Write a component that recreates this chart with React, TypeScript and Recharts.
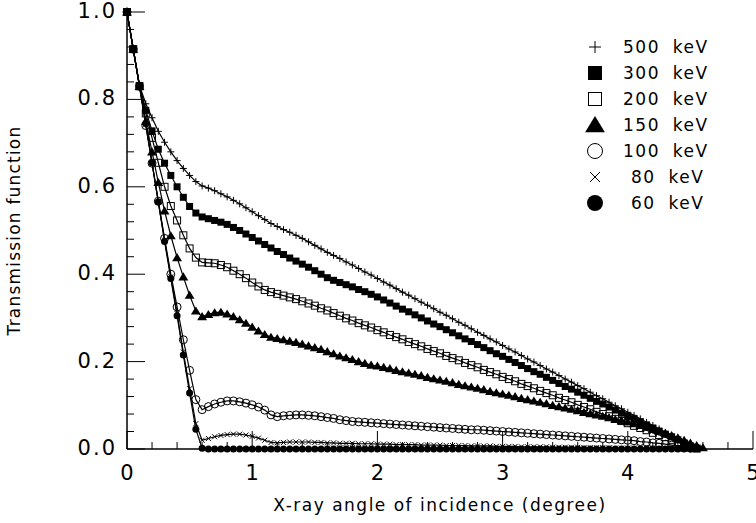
import React from 'react';
import { LineChart, Line, XAxis, YAxis, Legend } from 'recharts';

// angle of incidence (degree), one row of ten points per line
const ANGLE = [
  0, 0.05, 0.1, 0.15, 0.2, 0.25, 0.3, 0.35, 0.4, 0.45,
  0.5, 0.55, 0.6, 0.65, 0.7, 0.75, 0.8, 0.85, 0.9, 0.95,
  1.0, 1.05, 1.1, 1.15, 1.2, 1.25, 1.3, 1.35, 1.4, 1.45,
  1.5, 1.55, 1.6, 1.65, 1.7, 1.75, 1.8, 1.85, 1.9, 1.95,
  2.0, 2.05, 2.1, 2.15, 2.2, 2.25, 2.3, 2.35, 2.4, 2.45,
  2.5, 2.55, 2.6, 2.65, 2.7, 2.75, 2.8, 2.85, 2.9, 2.95,
  3.0, 3.05, 3.1, 3.15, 3.2, 3.25, 3.3, 3.35, 3.4, 3.45,
  3.5, 3.55, 3.6, 3.65, 3.7, 3.75, 3.8, 3.85, 3.9, 3.95,
  4.0, 4.05, 4.1, 4.15, 4.2, 4.25, 4.3, 4.35, 4.4, 4.45,
  4.5, 4.55, 4.6,
];

const KEV500 = [
  1.0, 0.915, 0.832, 0.79, 0.758, 0.727, 0.702, 0.68, 0.66, 0.642,
  0.626, 0.612, 0.602, 0.597, 0.591, 0.584, 0.577, 0.569, 0.561, 0.552,
  0.543, 0.534, 0.525, 0.516, 0.509, 0.502, 0.496, 0.489, 0.482, 0.474,
  0.466, 0.458, 0.45, 0.443, 0.436, 0.428, 0.421, 0.413, 0.405, 0.398,
  0.39, 0.382, 0.375, 0.367, 0.359, 0.352, 0.344, 0.336, 0.329, 0.321,
  0.313, 0.306, 0.298, 0.29, 0.283, 0.275, 0.267, 0.26, 0.252, 0.245,
  0.237, 0.229, 0.222, 0.214, 0.206, 0.199, 0.191, 0.183, 0.176, 0.168,
  0.16, 0.153, 0.145, 0.138, 0.13, 0.122, 0.115, 0.107, 0.099, 0.092,
  0.084, 0.077, 0.069, 0.061, 0.054, 0.046, 0.038, 0.031, 0.023, 0.015,
  0.008, 0.001, null,
];

const KEV300 = [
  1.0, 0.915, 0.832, 0.775, 0.728, 0.686, 0.654, 0.626, 0.6, 0.576,
  0.555, 0.54, 0.531, 0.527, 0.523, 0.519, 0.514, 0.507, 0.5, 0.492,
  0.484, 0.476, 0.468, 0.46, 0.452, 0.445, 0.437, 0.43, 0.423, 0.416,
  0.408, 0.4, 0.392, 0.386, 0.381, 0.376, 0.371, 0.365, 0.36, 0.354,
  0.348, 0.341, 0.334, 0.327, 0.32, 0.314, 0.307, 0.3, 0.293, 0.286,
  0.28, 0.273, 0.266, 0.259, 0.252, 0.246, 0.239, 0.232, 0.225, 0.218,
  0.212, 0.205, 0.198, 0.191, 0.184, 0.177, 0.171, 0.164, 0.157, 0.15,
  0.143, 0.137, 0.13, 0.123, 0.116, 0.109, 0.103, 0.096, 0.089, 0.082,
  0.075, 0.068, 0.062, 0.055, 0.048, 0.041, 0.034, 0.028, 0.021, 0.014,
  0.007, 0.001, null,
];

const KEV200 = [
  1.0, 0.915, 0.83, 0.768, 0.712, 0.655, 0.6, 0.556, 0.523, 0.489,
  0.459, 0.438, 0.427, 0.426, 0.425, 0.421, 0.416, 0.408, 0.4, 0.391,
  0.381, 0.372, 0.364, 0.359, 0.355, 0.351, 0.347, 0.343, 0.338, 0.333,
  0.328, 0.322, 0.317, 0.311, 0.305, 0.299, 0.294, 0.288, 0.283, 0.278,
  0.272, 0.267, 0.261, 0.256, 0.251, 0.245, 0.24, 0.235, 0.229, 0.224,
  0.219, 0.213, 0.208, 0.203, 0.197, 0.192, 0.187, 0.181, 0.176, 0.171,
  0.165, 0.16, 0.155, 0.149, 0.144, 0.139, 0.133, 0.128, 0.123, 0.117,
  0.112, 0.107, 0.101, 0.096, 0.091, 0.085, 0.08, 0.075, 0.069, 0.064,
  0.059, 0.053, 0.048, 0.043, 0.037, 0.032, 0.027, 0.021, 0.016, 0.011,
  0.005, 0.001, null,
];

const KEV150 = [
  1.0, 0.915, 0.83, 0.75, 0.68, 0.61, 0.545, 0.488, 0.438, 0.394,
  0.352, 0.316, 0.303, 0.308, 0.312, 0.313, 0.309, 0.303, 0.296, 0.288,
  0.279, 0.27, 0.262, 0.256, 0.253, 0.25, 0.247, 0.244, 0.24, 0.236,
  0.232, 0.228, 0.223, 0.218, 0.213, 0.209, 0.205, 0.2, 0.196, 0.192,
  0.19, 0.187, 0.184, 0.18, 0.177, 0.174, 0.171, 0.168, 0.164, 0.161,
  0.158, 0.155, 0.152, 0.148, 0.145, 0.142, 0.139, 0.136, 0.132, 0.129,
  0.126, 0.123, 0.12, 0.116, 0.113, 0.11, 0.107, 0.104, 0.1, 0.097,
  0.094, 0.091, 0.088, 0.084, 0.081, 0.078, 0.075, 0.072, 0.068, 0.065,
  0.062, 0.058, 0.054, 0.05, 0.045, 0.041, 0.036, 0.031, 0.026, 0.02,
  0.014, 0.008, 0.003,
];

const KEV100 = [
  1.0, 0.915, 0.83, 0.74, 0.654, 0.567, 0.482, 0.4, 0.325, 0.25,
  0.18, 0.113, 0.09, 0.097, 0.103, 0.107, 0.11, 0.11, 0.108, 0.105,
  0.101, 0.096, 0.089, 0.078, 0.074, 0.076, 0.077, 0.078, 0.078, 0.077,
  0.076, 0.074, 0.072, 0.07, 0.067, 0.065, 0.063, 0.062, 0.061, 0.06,
  0.059, 0.058, 0.057, 0.056, 0.055, 0.054, 0.053, 0.052, 0.051, 0.05,
  0.049, 0.048, 0.047, 0.046, 0.045, 0.044, 0.044, 0.043, 0.042, 0.041,
  0.04, 0.039, 0.038, 0.037, 0.036, 0.035, 0.034, 0.033, 0.032, 0.031,
  0.03, 0.029, 0.028, 0.027, 0.026, 0.025, 0.024, 0.023, 0.022, 0.021,
  0.02, 0.019, 0.017, 0.016, 0.014, 0.013, 0.011, 0.009, 0.007, 0.005,
  0.002, null, null,
];

const KEV80 = [
  1.0, 0.915, 0.83, 0.742, 0.655, 0.566, 0.478, 0.394, 0.31, 0.222,
  0.138, 0.058, 0.02, 0.024, 0.028, 0.031, 0.033, 0.034, 0.034, 0.032,
  0.029, 0.025, 0.02, 0.015, 0.014, 0.015, 0.016, 0.016, 0.016, 0.016,
  0.015, 0.015, 0.014, 0.014, 0.013, 0.013, 0.013, 0.012, 0.012, 0.012,
  0.011, 0.011, 0.011, 0.01, 0.01, 0.01, 0.01, 0.009, 0.009, 0.009,
  0.009, 0.008, 0.008, 0.008, 0.008, 0.007, 0.007, 0.007, 0.007, 0.006,
  0.006, 0.006, 0.006, 0.005, 0.005, 0.005, 0.005, 0.005, 0.004, 0.004,
  0.004, 0.004, 0.004, 0.003, 0.003, 0.003, 0.003, 0.003, 0.002, 0.002,
  0.002, 0.002, 0.002, 0.001, 0.001, 0.001, 0.001, 0.001, 0, 0,
  0, null, null,
];

const KEV60 = [
  1.0, 0.915, 0.83, 0.745, 0.655, 0.565, 0.475, 0.39, 0.305, 0.215,
  0.128, 0.045, 0.002, 0, 0, 0, 0, 0, 0, 0,
  0, 0, 0, 0, 0, 0, 0, 0, 0, 0,
  0, 0, 0, 0, 0, 0, 0, 0, 0, 0,
  0, 0, 0, 0, 0, 0, 0, 0, 0, 0,
  0, 0, 0, 0, 0, 0, 0, 0, 0, 0,
  0, 0, 0, 0, 0, 0, 0, 0, 0, 0,
  0, 0, 0, 0, 0, 0, 0, 0, 0, 0,
  0, 0, 0, 0, 0, 0, 0, 0, 0, 0,
  0, null, null,
];

const X_TICKS = [
  0, 0.2, 0.4, 0.6, 0.8, 1, 1.2, 1.4, 1.6, 1.8, 2, 2.2, 2.4, 2.6, 2.8,
  3, 3.2, 3.4, 3.6, 3.8, 4, 4.2, 4.4, 4.6, 4.8, 5,
];
const Y_TICKS = [
  0, 0.04, 0.08, 0.12, 0.16, 0.2, 0.24, 0.28, 0.32, 0.36, 0.4, 0.44, 0.48,
  0.52, 0.56, 0.6, 0.64, 0.68, 0.72, 0.76, 0.8, 0.84, 0.88, 0.92, 0.96, 1,
];

const SERIES = [
  { key: 'k500', name: '500 keV', values: KEV500, marker: 'plus' },
  { key: 'k300', name: '300 keV', values: KEV300, marker: 'square' },
  { key: 'k200', name: '200 keV', values: KEV200, marker: 'openSquare' },
  { key: 'k150', name: '150 keV', values: KEV150, marker: 'triangle' },
  { key: 'k100', name: '100 keV', values: KEV100, marker: 'openCircle' },
  { key: 'k80', name: '80 keV', values: KEV80, marker: 'cross' },
  { key: 'k60', name: '60 keV', values: KEV60, marker: 'circle' },
];

const chartData = ANGLE.map((x, i) => {
  const row: Record<string, number | null> = { x };
  SERIES.forEach(s => {
    row[s.key] = s.values[i];
  });
  return row;
});

const FONT = '"DejaVu Sans", sans-serif';

function Marker({ kind, cx, cy, s }: { kind: string; cx: number; cy: number; s: number }) {
  const k = '#000';
  switch (kind) {
    case 'plus':
      return <path d={`M${cx - s},${cy}H${cx + s}M${cx},${cy - s}V${cy + s}`} stroke={k} strokeWidth={1} fill="none" />;
    case 'cross':
      return <path d={`M${cx - s},${cy - s}L${cx + s},${cy + s}M${cx - s},${cy + s}L${cx + s},${cy - s}`} stroke={k} strokeWidth={1} fill="none" />;
    case 'square':
      return <rect x={cx - s} y={cy - s} width={2 * s} height={2 * s} fill={k} />;
    case 'openSquare':
      return <rect x={cx - s} y={cy - s} width={2 * s} height={2 * s} fill="none" stroke={k} strokeWidth={1} />;
    case 'triangle':
      return <path d={`M${cx},${cy - s}L${cx + s * 1.1},${cy + s * 0.8}L${cx - s * 1.1},${cy + s * 0.8}Z`} fill={k} />;
    case 'openCircle':
      return <circle cx={cx} cy={cy} r={s} fill="none" stroke={k} strokeWidth={1} />;
    default:
      return <circle cx={cx} cy={cy} r={s} fill={k} />;
  }
}

const DOT_SIZE: Record<string, number> = {
  plus: 3.5,
  cross: 2.5,
  square: 3.5,
  openSquare: 3.5,
  triangle: 4.5,
  openCircle: 4,
  circle: 3.5,
};

const LEGEND_SIZE: Record<string, number> = {
  plus: 6,
  cross: 5,
  square: 7,
  openSquare: 6.5,
  triangle: 9,
  openCircle: 7.5,
  circle: 8,
};

const isMajorX = (v: number) => Math.abs(v - Math.round(v)) < 1e-6;
const isMajorY = (v: number) => Math.abs(v * 5 - Math.round(v * 5)) < 1e-6;

const tickText = {
  fontFamily: FONT,
  fontSize: 21,
  fill: '#000',
  letterSpacing: 2,
};

const BottomTick = (props: any) => {
  const { x, y, payload } = props;
  const major = isMajorX(payload.value);
  return (
    <g>
      <line x1={x} y1={y} x2={x} y2={y - (major ? 18 : 7)} stroke="#000" strokeWidth={1} />
      {major && (
        <text x={x + 1} y={y + 25} textAnchor="middle" dominantBaseline="middle" style={tickText}>
          {Math.round(payload.value)}
        </text>
      )}
    </g>
  );
};

const TopTick = (props: any) => {
  const { x, y, payload } = props;
  const major = isMajorX(payload.value);
  return <line x1={x} y1={y} x2={x} y2={y + (major ? 18 : 7)} stroke="#000" strokeWidth={1} />;
};

const LeftTick = (props: any) => {
  const { x, y, payload } = props;
  const major = isMajorY(payload.value);
  return (
    <g>
      <line x1={x} y1={y} x2={x + (major ? 18 : 7)} y2={y} stroke="#000" strokeWidth={1} />
      {major && (
        <text x={x - 10} y={y} textAnchor="end" dominantBaseline="middle" style={tickText}>
          {payload.value.toFixed(1)}
        </text>
      )}
    </g>
  );
};

const RightTick = (props: any) => {
  const { x, y, payload } = props;
  const major = isMajorY(payload.value);
  return <line x1={x} y1={y} x2={x - (major ? 18 : 7)} y2={y} stroke="#000" strokeWidth={1} />;
};

const LegendBox = () => (
  <div style={{ fontFamily: FONT, fontSize: 17, color: '#000' }}>
    {SERIES.map(s => (
      <div key={s.key} style={{ display: 'flex', alignItems: 'center', height: 26 }}>
        <svg width={24} height={26} style={{ display: 'block' }}>
          <Marker kind={s.marker} cx={12} cy={13} s={LEGEND_SIZE[s.marker]} />
        </svg>
        <span
          style={{
            marginLeft: s.name.length < 7 ? 24 : 16,
            letterSpacing: 1.5,
            wordSpacing: 6,
            whiteSpace: 'pre',
          }}
        >
          {s.name}
        </span>
      </div>
    ))}
  </div>
);

export default function App() {
  return (
    <div style={{ position: 'absolute', left: 0, top: 0, width: 756, height: 523, background: '#fff' }}>
      <LineChart width={756} height={523} data={chartData} margin={{ top: 12, right: 3, bottom: 0, left: 0 }}>
        <XAxis
          xAxisId="b"
          dataKey="x"
          type="number"
          domain={[0, 5]}
          ticks={X_TICKS}
          interval={0}
          height={74}
          tickSize={0}
          tickMargin={0}
          tickLine={false}
          axisLine={{ stroke: '#000', strokeWidth: 1.5 }}
          tick={<BottomTick />}
          label={{
            value: 'X-ray angle of incidence (degree)',
            position: 'insideBottom',
            offset: 12,
            style: { fontFamily: FONT, fontSize: 17, fill: '#000', letterSpacing: 1.5 },
          }}
        />
        <XAxis
          xAxisId="t"
          dataKey="x"
          type="number"
          orientation="top"
          domain={[0, 5]}
          ticks={X_TICKS}
          interval={0}
          height={0}
          tickSize={0}
          tickMargin={0}
          tickLine={false}
          axisLine={{ stroke: '#000', strokeWidth: 1.5 }}
          tick={<TopTick />}
        />
        <YAxis
          yAxisId="l"
          type="number"
          domain={[0, 1]}
          ticks={Y_TICKS}
          interval={0}
          width={127}
          tickSize={0}
          tickMargin={0}
          tickLine={false}
          axisLine={{ stroke: '#000', strokeWidth: 1.5 }}
          tick={<LeftTick />}
          label={{
            value: 'Transmission function',
            angle: -90,
            position: 'insideLeft',
            offset: 14,
            style: { textAnchor: 'middle', fontFamily: FONT, fontSize: 17, fill: '#000', letterSpacing: 1.2 },
          }}
        />
        <YAxis
          yAxisId="r"
          type="number"
          orientation="right"
          domain={[0, 1]}
          allowDataOverflow
          ticks={Y_TICKS}
          interval={0}
          width={0}
          tickSize={0}
          tickMargin={0}
          tickLine={false}
          axisLine={{ stroke: '#000', strokeWidth: 1.5 }}
          tick={<RightTick />}
        />
        <Legend
          layout="vertical"
          align="center"
          verticalAlign="middle"
          content={<LegendBox />}
          wrapperStyle={{ top: 34, left: 583, width: 150 }}
        />
        {SERIES.map(s => (
          <Line
            key={s.key}
            xAxisId="b"
            yAxisId="l"
            dataKey={s.key}
            name={s.name}
            type="linear"
            stroke="#000"
            strokeWidth={1.2}
            isAnimationActive={false}
            activeDot={false}
            dot={(p: any) =>
              p.cx == null || p.cy == null || p.value == null ? (
                <g key={`${s.key}-${p.index}`} />
              ) : (
                <Marker key={`${s.key}-${p.index}`} kind={s.marker} cx={p.cx} cy={p.cy} s={DOT_SIZE[s.marker]} />
              )
            }
          />
        ))}
      </LineChart>
    </div>
  );
}
